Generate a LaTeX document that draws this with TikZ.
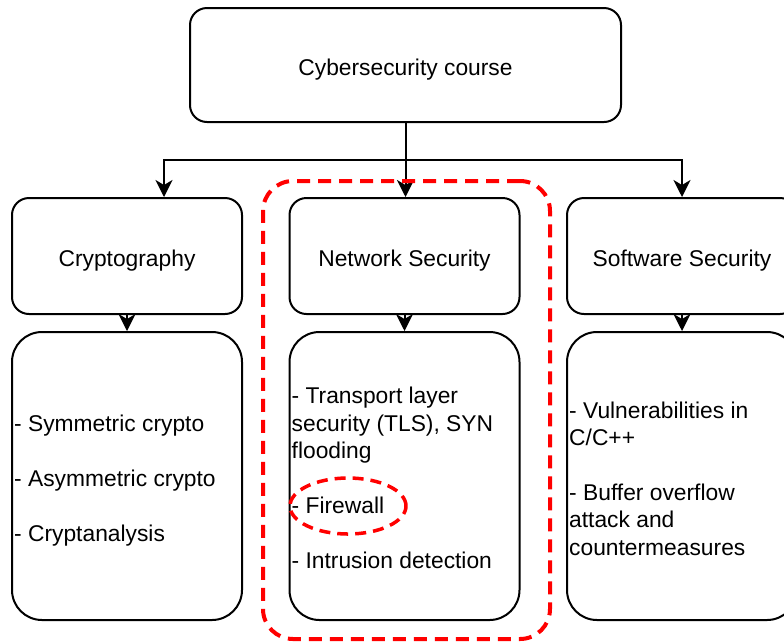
\documentclass[tikz,border=0pt]{standalone}
\usepackage{fontspec}
\setmainfont{Liberation Sans}
\usetikzlibrary{arrows.meta,shapes.geometric,calc}

\tikzset{
  txt/.style={font=\fontsize{22.8}{27.4}\selectfont},
  box/.style={draw=black, line width=2pt, rounded corners=17pt, fill=white, txt,
              text height=20pt, text depth=0pt,
              minimum width=230pt, minimum height=116pt, inner sep=0pt},
  bigbox/.style={box, minimum height=288pt, rounded corners=30pt},
  list/.style={txt, align=left, anchor=west, inner sep=0pt},
  arr/.style={line width=2pt, -{Stealth[length=17pt,width=17pt,inset=5pt]}},
  reddash/.style={draw=red, line width=4pt, dash pattern=on 13pt off 8pt},
}

\begin{document}
\begin{tikzpicture}[x=1pt, y=-1pt]
  \clip (0,0) rectangle (784,641);

  % root
  \node[box, minimum width=431pt, minimum height=114pt] (top) at (405.5,65) {Cybersecurity course};

  % topic headers
  \node[box] (crypto) at (127,256) {Cryptography};
  \node[box] (net)    at (404.5,256) {Network Security};
  \node[box] (soft)   at (682,256) {Software Security};

  % topic contents
  \node[bigbox] (cryptoL) at (127,476) {};
  \node[bigbox] (netL)    at (404.5,476) {};
  \node[bigbox] (softL)   at (682,476) {};

  \node[list] (cryptoT) at ($(cryptoL.west)+(3,4.5)$)
    {- Symmetric crypto\\[27.4pt]- Asymmetric crypto\\[27.4pt]- Cryptanalysis};
  \node[list] (netT) at ($(netL.west)+(3,2)$)
    {- Transport layer\\security (TLS), SYN\\flooding\\[27.4pt]- Firewall\\[27.4pt]- Intrusion detection};
  \node[list] (softT) at ($(softL.west)+(3,2.5)$)
    {- Vulnerabilities in\\C/C++\\[27.4pt]- Buffer overflow\\attack and\\countermeasures};

  % connectors
  \coordinate (split) at (405.5,160);
  \draw[arr] (top.south) -- (top.south |- net.north);
  \draw[arr] (split) -| ([xshift=37pt]crypto.north);
  \draw[arr] (split) -| (soft.north);
  \draw[arr] (crypto.south) -- (cryptoL.north);
  \draw[arr] (net.south) -- (netL.north);
  \draw[arr] (soft.south) -- (softL.north);

  % highlight
  \node[reddash, rounded corners=30pt, minimum width=287pt, minimum height=458pt] (focus) at (406.5,410) {};
  \node[reddash, ellipse, line width=3.5pt, dash pattern=on 11pt off 7pt,
        minimum width=116pt, minimum height=56pt] (fw) at (348,506) {};
\end{tikzpicture}
\end{document}
